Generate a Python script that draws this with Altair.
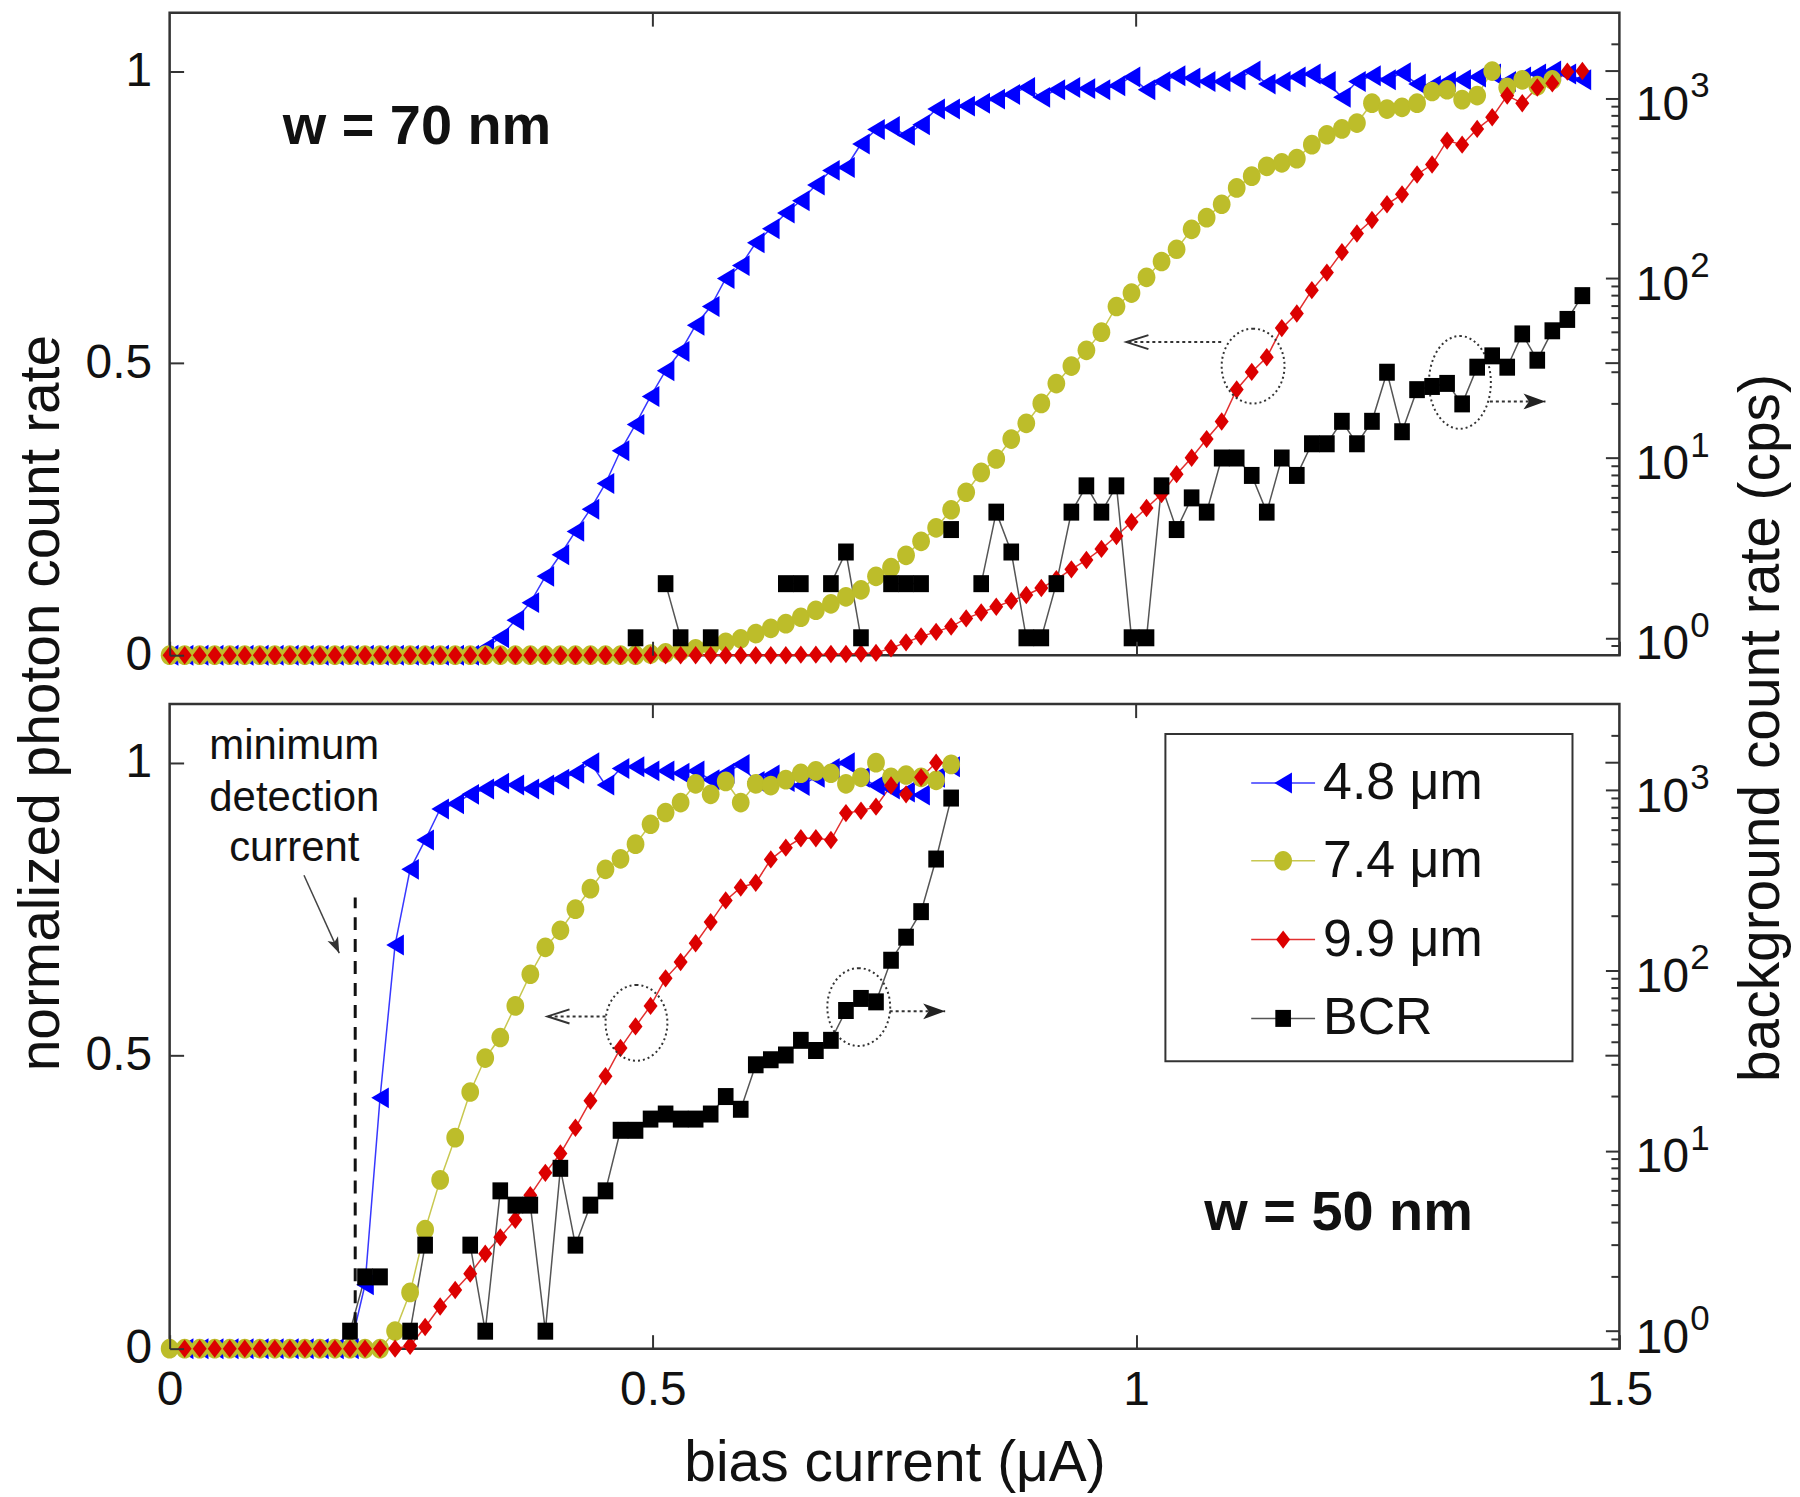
import altair as alt
import pandas as pd

# ---------------------------------------------------------------- data
STEP = 0.01555  # bias-current sweep step (uA); point i sits at i*STEP

SERIES = ["4.8 μm", "7.4 μm", "9.9 μm", "BCR"]
MARKER_COLORS = ["#0000FF", "#BDBD2A", "#DC0000", "#000000"]
LINE_COLORS = ["#3838FF", "#C8C850", "#E23030", "#555555"]
# marker outlines (unit box); slightly taller than wide, as in the figure
SHAPES = [
    "M-0.84,0L0.84,-1L0.84,1Z",                                  # triangle-left
    "M0,-1A0.9,1 0 1,1 0,1A0.9,1 0 1,1 0,-1Z",                   # circle
    "M0,-1L0.76,0L0,1L-0.76,0Z",                                 # diamond
    "M-0.92,-1H0.92V1H-0.92Z",                                   # square
]
MARKER_SIZES = [440, 290, 400, 210]

X_TICKS = [0, 0.5, 1, 1.5]
YL_TICKS = [0, 0.5, 1]
YR_TICKS = [1, 10, 100, 1000]
YR_EXPONENTS = ["0", "1", "2", "3"]

# ---- w = 70 nm (top panel), normalized photon count rate
top_blue = [0.0] * 21 + [
    0.012, 0.03, 0.06, 0.09, 0.135, 0.172, 0.212, 0.25, 0.294, 0.35,
    0.395, 0.443, 0.487, 0.52, 0.565, 0.597, 0.645, 0.667, 0.706, 0.73,
    0.757, 0.778, 0.805, 0.83, 0.835, 0.875, 0.9, 0.905, 0.89, 0.908,
    0.935, 0.935, 0.94, 0.945, 0.952, 0.96, 0.972, 0.955, 0.968, 0.972,
    0.97, 0.968, 0.975, 0.99, 0.968, 0.982, 0.992, 0.988, 0.982, 0.982,
    0.985, 1.0, 0.978, 0.982, 0.99, 0.995, 0.982, 0.955, 0.982, 0.992,
    0.985, 0.997, 0.978, 0.975, 0.982, 0.985, 0.99, 0.995, 0.982, 0.99,
    0.995, 1.0, 0.995, 0.985]
top_yellow = [0.0] * 32 + [
    0.002, 0.004, 0.007, 0.011, 0.016, 0.022, 0.028, 0.037,
    0.046, 0.054, 0.065, 0.077, 0.088, 0.10, 0.112, 0.135, 0.15, 0.171,
    0.195, 0.218, 0.249, 0.279, 0.313, 0.336, 0.37, 0.397, 0.431, 0.465,
    0.495, 0.522, 0.553, 0.597, 0.62, 0.647, 0.674, 0.695, 0.729, 0.749,
    0.772, 0.80, 0.82, 0.837, 0.843, 0.85, 0.874, 0.891, 0.901, 0.911,
    0.945, 0.935, 0.938, 0.945, 0.965, 0.968, 0.951, 0.958, 1.0, 0.972,
    0.985, 0.975, 0.985]
top_red = [0.0] * 42 + [
    0.001, 0.001, 0.002, 0.002, 0.003, 0.004, 0.012, 0.022,
    0.032, 0.04, 0.049, 0.063, 0.073, 0.083, 0.093, 0.103, 0.115, 0.13,
    0.147, 0.163, 0.182, 0.204, 0.228, 0.252, 0.276, 0.31, 0.338, 0.37,
    0.40, 0.455, 0.485, 0.51, 0.56, 0.585, 0.625, 0.655, 0.69, 0.722,
    0.745, 0.772, 0.789, 0.823, 0.84, 0.881, 0.874, 0.901, 0.921, 0.958,
    0.945, 0.972, 0.979, 0.999, 1.0]
# background count rate (cps); None = no count (not drawn on the log axis)
top_bcr = [None] * 31 + [
    1, None, 2, 1, None, 1, None, None, None, None,
    2, 2, None, 2, 3, 1, None, 2, 2, 2, None, 4, None] + [
    2, 5, 3, 1, 1, 2, 5, 7, 5, 7,
    1, 1, 7, 4, 6, 5, 10, 10, 8, 5,
    10, 8, 12, 12, 16, 12, 16, 30, 14, 24,
    25, 26, 20, 32, 37, 32, 49, 35, 51, 59, 80]

# ---- w = 50 nm (bottom panel)
bottom_blue = [None] + [0.0] * 12 + [
    0.109, 0.428, 0.689, 0.818, 0.868, 0.921, 0.93,
    0.946, 0.955, 0.965, 0.962, 0.955, 0.962, 0.972, 0.982, 1.0, 0.962,
    0.99, 0.993, 0.986, 0.986, 0.982, 0.986, 0.971, 0.982, 0.997, 0.968,
    0.979, 0.968, 0.961, 0.975, 0.99, 1.0, 0.975, 0.961, 0.955, 0.95,
    0.945, 0.975, 0.993]
bottom_yellow = [0.0] * 15 + [
    0.03, 0.096, 0.203, 0.288, 0.36,
    0.438, 0.496, 0.531, 0.585, 0.639, 0.685, 0.714, 0.75, 0.785, 0.818,
    0.836, 0.861, 0.895, 0.915, 0.932, 0.964, 0.946, 0.968, 0.932, 0.964,
    0.961, 0.971, 0.982, 0.986, 0.982, 0.964, 0.975, 1.0, 0.975, 0.979,
    0.975, 0.97, 0.997]
bottom_red = [None] + [0.0] * 15 + [
    0.005, 0.037, 0.072, 0.10,
    0.128, 0.162, 0.19, 0.22, 0.262, 0.30, 0.333, 0.377, 0.423, 0.465,
    0.513, 0.55, 0.585, 0.632, 0.66, 0.692, 0.728, 0.765, 0.787, 0.795,
    0.835, 0.855, 0.871, 0.871, 0.868, 0.914, 0.918, 0.925, 0.961, 0.946,
    0.975, 1.0]
bottom_bcr = [None] * 12 + [
    1, 2, 2, None, 1, 3, None, None,
    3, 1, 6, 5, 5, 1, 8, 3, 5, 6,
    13, 13, 15, 16, 15, 15, 16, 20, 17, 30,
    32, 34, 41, 36, 41, 60, 70, 67, 114, 153,
    212, 415, 904]

# ---- annotations (data coordinates: bias in uA, normalized rate)
TOP_TAG = ("w = 70 nm", 0.117, 0.904)
BOT_TAG = ("w = 50 nm", 1.0705, 0.231)
MDC_LINES = ["minimum", "detection", "current"]
MDC_X = 0.129
MDC_Y = [1.029, 0.94, 0.855]
MDC_DASH = (0.192, 0.04, 0.77)
MDC_ARROW = (0.139, 0.808, 0.1755, 0.675)
TOP_ELLIPSES = [(1.121, 0.495, 63, 75), (1.335, 0.467, 62, 93)]
BOT_ELLIPSES = [(0.483, 0.556, 62, 76), (0.713, 0.583, 63, 78)]
TOP_ARROWS = [(1.088, 0.99, 0.536, "left"), (1.366, 1.4235, 0.4345, "right")]
BOT_ARROWS = [(0.451, 0.391, 0.567, "left"), (0.745, 0.8024, 0.5757, "right")]

Y_TITLE_LEFT = "normalized photon count rate"
Y_TITLE_RIGHT = "background count rate (cps)"
X_TITLE = "bias current (μA)"

# ---------------------------------------------------------------- layout
W = 1453
H_TOP = 644
H_BOT = 646
TICK = 14
FONT = "Liberation Sans"
INK = "#333333"

x_scale = alt.Scale(domain=[0, 1.5], nice=False, zero=False)
yl_scale = alt.Scale(domain=[0, 1.1], nice=False, zero=False)
yr_scale = alt.Scale(type="log", domain=[0.8, 3000], nice=False)
stroke_scale = alt.Scale(domain=SERIES, range=LINE_COLORS)
color_scale = alt.Scale(domain=SERIES, range=MARKER_COLORS)
shape_scale = alt.Scale(domain=SERIES, range=SHAPES)
size_scale = alt.Scale(domain=SERIES, range=MARKER_SIZES)

OPEN_LEFT = "M1,-0.32L0,0L1,0.32"
FILLED_RIGHT = "M0,0L-1,-0.36L-0.75,0L-1,0.36Z"


def x_axis_for(show_labels):
    return alt.Axis(values=X_TICKS, format="~g", offset=-TICK, tickSize=TICK,
                    labels=show_labels, labelPadding=18, labelFlush=False,
                    title=X_TITLE if show_labels else None, titlePadding=21,
                    grid=False, domain=False, zindex=2)


X_AXIS_TOP = x_axis_for(False)
X_AXIS_BOT = x_axis_for(True)
LEFT_AXIS = alt.Axis(values=YL_TICKS, format="~g", orient="left", offset=-TICK,
                     tickSize=TICK, labelPadding=18, labelFlush=False, title=None,
                     grid=False, domain=False, zindex=2)
RIGHT_AXIS = alt.Axis(values=YR_TICKS, orient="right", offset=-TICK,
                      tickSize=TICK, labelPadding=16, labelExpr="'10'",
                      labelFlush=False, labelOffset=7, title=None, grid=False,
                      domain=False, zindex=2)


def series_rows(values, name):
    rows, seg, prev = [], 0, False
    for i, v in enumerate(values):
        if v is None:
            prev = False
            continue
        if not prev:
            seg += 1
        rows.append({"bias": round(i * STEP, 5), "value": v,
                     "series": name, "seg": f"{name}#{seg}"})
        prev = True
    return rows


def one(**kw):
    return pd.DataFrame({k: [v] for k, v in kw.items()})


def XQ(field, xaxis):
    # every layer of a panel shares the x scale, so all carry the same axis
    return alt.X(field, type="quantitative", scale=x_scale, axis=xaxis)


def YL(field, axis=None):
    return alt.Y(field, type="quantitative", scale=yl_scale, axis=axis)


def YR(field, axis=None):
    return alt.Y(field, type="quantitative", scale=yr_scale, axis=axis)


def marker_enc():
    return dict(
        color=alt.Color("series:N", scale=color_scale, legend=None),
        shape=alt.Shape("series:N", scale=shape_scale, legend=None),
        size=alt.Size("series:N", scale=size_scale, legend=None))


def ellipse(cx, cy, w, h, xa):
    r = w / h
    path = f"M0,-1A{r:.3f},1 0 1,1 0,1A{r:.3f},1 0 1,1 0,-1Z"
    return alt.Chart(one(x=cx, y=cy)).mark_point(
        shape=path, size=h * h, filled=False, opacity=1, color=INK,
        strokeWidth=2, strokeDash=[2, 3]).encode(x=XQ("x", xa), y=YL("y"))


def dotted_arrow(x0, x1, y, kind, xa):
    line = alt.Chart(one(x=x0, x2=x1, y=y)).mark_rule(
        color=INK, strokeWidth=2, strokeDash=[3, 3]).encode(
        x=XQ("x", xa), x2=alt.X2("x2"), y=YL("y"))
    if kind == "left":
        head = alt.Chart(one(x=x1, y=y)).mark_point(
            shape=OPEN_LEFT, size=44 * 44, filled=False, opacity=1,
            color=INK, strokeWidth=2).encode(x=XQ("x", xa), y=YL("y"))
    else:
        head = alt.Chart(one(x=x1, y=y)).mark_point(
            shape=FILLED_RIGHT, size=44 * 44, filled=True, opacity=1,
            color="#222222").encode(x=XQ("x", xa), y=YL("y"))
    return [line, head]


def panel_layers(curves, bcr, tag, ellipses, arrows, xa, extra):
    cdf = pd.DataFrame([r for vals, name in curves for r in series_rows(vals, name)])
    bdf = pd.DataFrame(series_rows(bcr, "BCR"))

    lines = alt.Chart(cdf).mark_line(strokeWidth=1.5).encode(
        x=XQ("bias", xa), y=YL("value", LEFT_AXIS),
        stroke=alt.Stroke("series:N", scale=stroke_scale, legend=None),
        detail="seg:N", order="bias:Q")
    pts = alt.Chart(cdf).mark_point(filled=True, opacity=1).encode(
        x=XQ("bias", xa), y=YL("value"), **marker_enc())

    b_lines = alt.Chart(bdf).mark_line(strokeWidth=1.5).encode(
        x=XQ("bias", xa), y=YR("value", RIGHT_AXIS),
        stroke=alt.Stroke("series:N", scale=stroke_scale, legend=None),
        detail="seg:N", order="bias:Q")
    b_pts = alt.Chart(bdf).mark_point(filled=True, opacity=1).encode(
        x=XQ("bias", xa), y=YR("value"), **marker_enc())

    right_ticks = alt.Chart(pd.DataFrame({"v": YL_TICKS[1:]})).mark_rule(
        color=INK, strokeWidth=2).encode(
        x=alt.value(W - TICK), x2=alt.value(W), y=YL("v"))
    top_ticks = alt.Chart(pd.DataFrame({"v": X_TICKS[1:-1]})).mark_rule(
        color=INK, strokeWidth=2).encode(
        x=XQ("v", xa), y=alt.value(0), y2=alt.value(TICK))
    minor_vals = [m * d for d in [0.1, 1, 10, 100, 1000] for m in range(2, 10)
                  if 0.85 < m * d < 2500]
    minor = alt.Chart(pd.DataFrame({"v": minor_vals})).mark_rule(
        color=INK, strokeWidth=2).encode(
        x=alt.value(W - 8), x2=alt.value(W), y=YR("v"))
    exps = alt.Chart(pd.DataFrame({"v": YR_TICKS, "e": YR_EXPONENTS})).mark_text(
        align="left", baseline="middle", font=FONT, fontSize=35, dy=-12,
        color="#111111").encode(
        x=alt.value(W + 16 + 55), y=YR("v"), text="e:N")

    tag_txt = alt.Chart(one(t=tag[0], x=tag[1], y=tag[2])).mark_text(
        align="left", baseline="middle", font=FONT, fontSize=56,
        fontWeight="bold", color="#111111").encode(
        x=XQ("x", xa), y=YL("y"), text="t:N")

    layers = [lines, b_lines, pts, right_ticks, top_ticks, minor, exps, tag_txt]
    for e in ellipses:
        layers.append(ellipse(*e, xa))
    for a in arrows:
        layers.extend(dotted_arrow(*a, xa))
    layers.extend(extra)
    layers.append(b_pts)
    return layers


# ---- bottom-panel-only annotation layers
XB = X_AXIS_BOT
mdc_text = alt.Chart(pd.DataFrame({"t": MDC_LINES, "x": [MDC_X] * 3, "y": MDC_Y})).mark_text(
    align="center", baseline="middle", font=FONT, fontSize=42, color="#111111").encode(
    x=XQ("x", XB), y=YL("y"), text="t:N")
mdc_dash = alt.Chart(one(x=MDC_DASH[0], y=MDC_DASH[1], y2=MDC_DASH[2])).mark_rule(
    color="#111111", strokeWidth=3, strokeDash=[13, 9]).encode(
    x=XQ("x", XB), y=YL("y"), y2=alt.Y2("y2"))
mdc_line = alt.Chart(one(x=MDC_ARROW[0], y=MDC_ARROW[1], x2=MDC_ARROW[2], y2=MDC_ARROW[3])).mark_rule(
    color="#444444", strokeWidth=1.5).encode(
    x=XQ("x", XB), y=YL("y"), x2=alt.X2("x2"), y2=alt.Y2("y2"))
mdc_head = alt.Chart(one(x=MDC_ARROW[2], y=MDC_ARROW[3])).mark_point(
    shape=FILLED_RIGHT, size=32 * 32, filled=True, opacity=1, color="#333333",
    angle=66).encode(x=XQ("x", XB), y=YL("y"))

# ---- legend (drawn in the lower panel, top right)
leg_df = pd.DataFrame({"series": SERIES, "ly": [79, 157, 236, 315]})
leg_box = alt.Chart(one(a=0)).mark_rect(
    fill="white", stroke=INK, strokeWidth=2).encode(
    x=alt.value(998), x2=alt.value(1406), y=alt.value(30), y2=alt.value(358))
leg_y = alt.Y("ly:Q", scale=None, axis=None)
leg_lines = alt.Chart(leg_df).mark_rule(strokeWidth=1.5).encode(
    x=alt.value(1084), x2=alt.value(1148), y=leg_y,
    stroke=alt.Stroke("series:N", scale=stroke_scale, legend=None))
leg_pts = alt.Chart(leg_df).mark_point(filled=True, opacity=1).encode(
    x=alt.value(1116), y=leg_y, **marker_enc())
leg_txt = alt.Chart(leg_df).mark_text(
    align="left", baseline="middle", font=FONT, fontSize=52, color="#111111").encode(
    x=alt.value(1156), y=leg_y, text="series:N")

# ---- shared axis titles
title_left = alt.Chart(one(a=0)).mark_text(
    text=Y_TITLE_LEFT, angle=270, font=FONT, fontSize=57, color="#111111",
    align="center", baseline="middle").encode(x=alt.value(-128), y=alt.value(-1))
title_right = alt.Chart(one(a=0)).mark_text(
    text=Y_TITLE_RIGHT, angle=270, font=FONT, fontSize=57, color="#111111",
    align="center", baseline="middle").encode(x=alt.value(W + 143), y=alt.value(24))

top_layers = panel_layers(
    [(top_blue, SERIES[0]), (top_yellow, SERIES[1]), (top_red, SERIES[2])],
    top_bcr, TOP_TAG, TOP_ELLIPSES, TOP_ARROWS, X_AXIS_TOP, [])
bot_layers = panel_layers(
    [(bottom_blue, SERIES[0]), (bottom_yellow, SERIES[1]), (bottom_red, SERIES[2])],
    bottom_bcr, BOT_TAG, BOT_ELLIPSES, BOT_ARROWS, X_AXIS_BOT,
    [mdc_text, mdc_dash, mdc_line, mdc_head])
bot_layers += [leg_box, leg_lines, leg_pts, leg_txt, title_left, title_right]

top = alt.layer(*top_layers).resolve_scale(y="independent").properties(
    width=W, height=H_TOP)
bottom = alt.layer(*bot_layers).resolve_scale(y="independent").properties(
    width=W, height=H_BOT)

chart = alt.vconcat(top, bottom, spacing=49, bounds="flush").properties(
    padding={"left": 3, "top": 0, "right": 0, "bottom": 0}
).configure_view(
    stroke=INK, strokeWidth=2.5
).configure_axis(
    labelFont=FONT, labelFontSize=48, labelColor="#111111",
    titleFont=FONT, titleFontSize=57, titleFontWeight="normal", titleColor="#111111",
    tickColor=INK, tickWidth=2
)

chart.save("out.html", embed_options={"renderer": "svg", "actions": False})
